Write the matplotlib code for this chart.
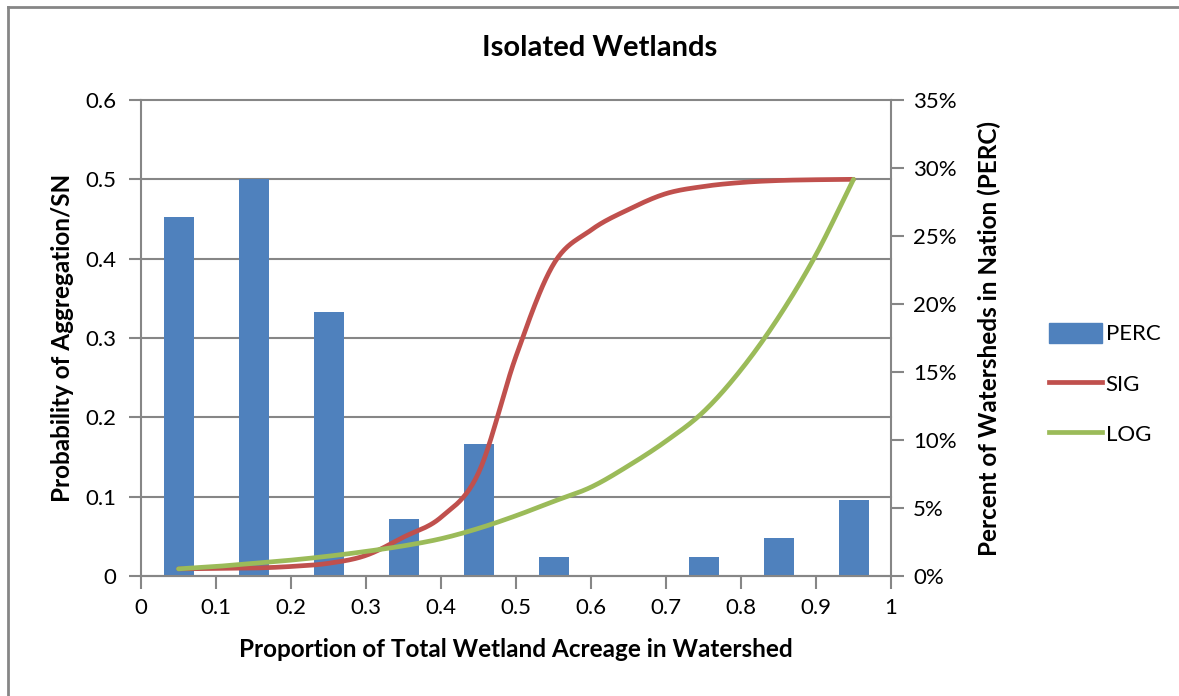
import numpy as np
import matplotlib.pyplot as plt
from matplotlib.transforms import blended_transform_factory
from matplotlib.lines import Line2D
from matplotlib.patches import Patch

plt.rcParams['font.family'] = ['Lato', 'DejaVu Sans']

# Histogram of watersheds (percent, right axis)
bins = [0.05, 0.15, 0.25, 0.35, 0.45, 0.55, 0.65, 0.75, 0.85, 0.95]
perc = [26.4, 29.2, 19.4, 4.2, 9.7, 1.4, 0.0, 1.4, 2.8, 5.6]

# Probability curves (left axis)
xs = [0.05, 0.10, 0.15, 0.20, 0.25, 0.30, 0.35, 0.40, 0.45, 0.50,
      0.55, 0.60, 0.65, 0.70, 0.75, 0.80, 0.85, 0.90, 0.95]
sig = [0.009, 0.0095, 0.010, 0.012, 0.016, 0.026, 0.049, 0.074, 0.130, 0.277,
       0.393, 0.436, 0.462, 0.482, 0.491, 0.496, 0.4985, 0.4995, 0.500]
log = [0.009, 0.012, 0.016, 0.020, 0.025, 0.031, 0.038, 0.047, 0.060, 0.076,
       0.094, 0.112, 0.139, 0.170, 0.207, 0.260, 0.326, 0.405, 0.500]

left_ticks = [0, 0.1, 0.2, 0.3, 0.4, 0.5, 0.6]
right_ticks = [0, 5, 10, 15, 20, 25, 30, 35]
x_ticks = [0, 0.1, 0.2, 0.3, 0.4, 0.5, 0.6, 0.7, 0.8, 0.9, 1]

BLUE = '#4F81BD'
RED = '#C0504D'
GREEN = '#9BBB59'
GRAY = '#868686'


# Catmull-Rom smoothing, like a spreadsheet "smoothed line"
def smooth_line(x, y, steps=24):
    x = np.asarray(x, float)
    y = np.asarray(y, float)
    px = np.concatenate([[2 * x[0] - x[1]], x, [2 * x[-1] - x[-2]]])
    py = np.concatenate([[2 * y[0] - y[1]], y, [2 * y[-1] - y[-2]]])
    out_x, out_y = [], []
    t = np.linspace(0, 1, steps, endpoint=False)
    for i in range(1, len(px) - 2):
        for p, out in ((px, out_x), (py, out_y)):
            p0, p1, p2, p3 = p[i - 1], p[i], p[i + 1], p[i + 2]
            out.extend(0.5 * (2 * p1 + (-p0 + p2) * t
                              + (2 * p0 - 5 * p1 + 4 * p2 - p3) * t ** 2
                              + (-p0 + 3 * p1 - 3 * p2 + p3) * t ** 3))
    out_x.append(x[-1])
    out_y.append(y[-1])
    return out_x, out_y


W, H = 1179, 696
fig = plt.figure(figsize=(W / 100, H / 100), dpi=100)

# outer chart frame (left and top edges visible)
fig.add_artist(Line2D([8 / W, 8 / W], [0, 1 - 7 / H], color=GRAY, lw=2))
fig.add_artist(Line2D([8 / W, 1], [1 - 7 / H, 1 - 7 / H], color=GRAY, lw=2))

ax_bar = fig.add_axes([141 / W, 1 - 576 / H, 750 / W, 476 / H])
ax_line = ax_bar.twinx()

ax_bar.set_xlim(0, 1)
ax_bar.set_ylim(0, 35)
ax_line.set_ylim(0, 0.6)

# horizontal grid follows the left axis but sits behind the bars
grid_tr = blended_transform_factory(ax_bar.transAxes, ax_line.transData)
for v in left_ticks:
    ax_bar.plot([0, 1], [v, v], transform=grid_tr, color=GRAY, lw=1.5,
                zorder=0, clip_on=False)

ax_bar.bar(bins, perc, width=0.04, color=BLUE, zorder=2)

sx, sy = smooth_line(xs, sig)
lx, ly = smooth_line(xs, log)
ax_line.plot(sx, sy, color=RED, lw=3.4, solid_capstyle='round')
ax_line.plot(lx, ly, color=GREEN, lw=3.4, solid_capstyle='round')

# axes styling
for ax in (ax_bar, ax_line):
    for s in ax.spines.values():
        s.set_visible(False)
for side in ('left', 'right', 'bottom'):
    ax_bar.spines[side].set_visible(True)
    ax_bar.spines[side].set_color(GRAY)
    ax_bar.spines[side].set_linewidth(1.5)

TICK_FS = 16
LABEL_FS = 17.5

ax_bar.yaxis.tick_right()
ax_bar.yaxis.set_label_position('right')
ax_bar.set_yticks(right_ticks)
ax_bar.set_yticklabels([f'{v}%' for v in right_ticks])
ax_bar.set_xticks(x_ticks)
ax_bar.set_xticklabels([f'{v:g}' for v in x_ticks])
ax_bar.tick_params(axis='both', colors=GRAY, labelcolor='black',
                   labelsize=TICK_FS, length=9, width=1.5, direction='out',
                   pad=7)

ax_line.yaxis.tick_left()
ax_line.yaxis.set_label_position('left')
ax_line.set_yticks(left_ticks)
ax_line.set_yticklabels([f'{v:g}' for v in left_ticks])
ax_line.tick_params(axis='y', colors=GRAY, labelcolor='black',
                    labelsize=TICK_FS, length=9, width=1.5, direction='out',
                    pad=9)

ax_bar.set_xlabel('Proportion of Total Wetland Acreage in Watershed',
                  fontsize=LABEL_FS, fontweight='bold', labelpad=14)
ax_line.set_ylabel('Probability of Aggregation/SN', fontsize=LABEL_FS,
                   fontweight='bold', labelpad=8)
ax_bar.set_ylabel('Percent of Watersheds in Nation (PERC)', fontsize=LABEL_FS,
                  fontweight='bold', labelpad=15)

# chart title centred over the whole chart area
fig.text(600 / W, 1 - 48 / H, 'Isolated Wetlands', fontsize=21,
         fontweight='bold', ha='center', va='center')

handles = [Patch(color=BLUE, label='PERC'),
           Line2D([], [], color=RED, lw=3.4, label='SIG'),
           Line2D([], [], color=GREEN, lw=3.4, label='LOG')]
fig.legend(handles=handles, loc='center left',
           bbox_to_anchor=(1040 / W, 1 - 384 / H), frameon=False,
           fontsize=TICK_FS, handlelength=2.4, handleheight=1.0,
           handletextpad=0.15, labelspacing=1.3, borderaxespad=0)

fig.savefig('out.png', dpi=100)
